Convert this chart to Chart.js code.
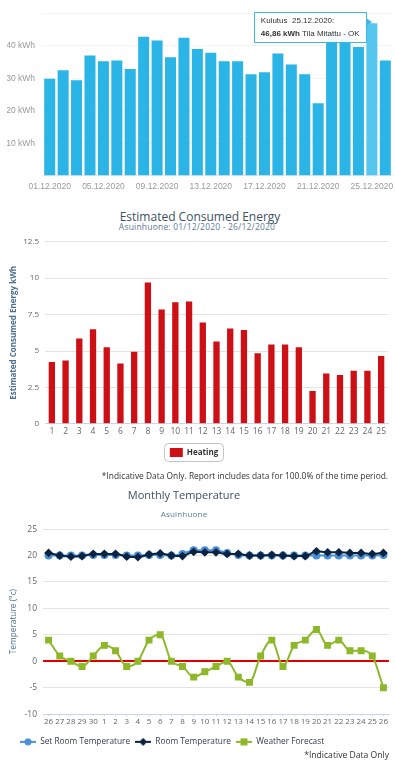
<!DOCTYPE html>
<html>
<head>
<meta charset="utf-8">
<script src="https://cdn.jsdelivr.net/npm/chart.js@4/dist/chart.umd.min.js"></script>
<style>
  body { margin: 0; background: #fff; width: 395px; height: 768px; overflow: hidden; position: relative; }
  .box { position: absolute; left: 0; width: 395px; }
  .ttl { position: absolute; font-family: "Open Sans", sans-serif; color: #3e4f61; white-space: nowrap; transform: translateX(-50%); }
  .sub { position: absolute; font-family: "Open Sans", sans-serif; color: #5d7a97; white-space: nowrap; transform: translateX(-50%); letter-spacing: 0.2px; }
  .note { position: absolute; font-family: "Open Sans", sans-serif; color: #333; white-space: nowrap; }
  #tip { position: absolute; display: none; background: rgba(255,255,255,0.95); border: 1px solid #3fb7e6;
         font-family: "Liberation Sans", Arial, sans-serif; font-size: 8px; color: #333; padding: 2px 6px 2px 6px;
         line-height: 12.5px; white-space: nowrap; }
  #tip:after { content: ""; position: absolute; right: -6px; top: 5px; border-left: 6px solid #3fb7e6;
         border-top: 4px solid transparent; border-bottom: 4px solid transparent; }
</style>
</head>
<body>

<div class="box" style="top:0;height:198px"><canvas id="c1"></canvas></div>
<div id="tip"></div>

<div class="ttl" style="left:200px;top:208px;font-size:12px">Estimated Consumed Energy</div>
<div class="sub" style="left:197px;top:221px;font-size:8.5px">Asuinhuone: 01/12/2020 - 26/12/2020</div>
<div class="box" style="top:231px;height:240px"><canvas id="c2"></canvas></div>
<div class="note" style="right:7px;top:470px;font-size:8.4px">*Indicative Data Only. Report includes data for 100.0% of the time period.</div>

<div class="ttl" style="left:184px;top:487px;font-size:11px">Monthly Temperature</div>
<div class="sub" style="left:184px;top:508px;font-size:8px">Asuinhuone</div>
<div class="box" style="top:518px;height:239px"><canvas id="c3"></canvas></div>
<div class="note" style="right:6px;top:749px;font-size:8.6px">*Indicative Data Only</div>

<script>
// --- data: daily consumption (kWh) ---
var days1 = ['01.12.2020', '02.12.2020', '03.12.2020', '04.12.2020', '05.12.2020', '06.12.2020', '07.12.2020',
             '08.12.2020', '09.12.2020', '10.12.2020', '11.12.2020', '12.12.2020', '13.12.2020', '14.12.2020',
             '15.12.2020', '16.12.2020', '17.12.2020', '18.12.2020', '19.12.2020', '20.12.2020', '21.12.2020',
             '22.12.2020', '23.12.2020', '24.12.2020', '25.12.2020', '26.12.2020'];
var kulutus = [29.8, 32.4, 29.4, 37.0, 35.2, 35.4, 32.8, 42.7, 41.6, 36.4, 42.4, 39.0, 37.8, 35.2,
               35.2, 31.2, 31.8, 37.6, 34.2, 31.2, 22.3, 44.5, 43.5, 39.6, 46.86, 35.4];
var kwhTicks = [10, 20, 30, 40];

// --- data: estimated consumed energy ---
var days2 = ['1', '2', '3', '4', '5', '6', '7', '8', '9', '10', '11', '12', '13',
             '14', '15', '16', '17', '18', '19', '20', '21', '22', '23', '24', '25'];
var heating = [4.25, 4.35, 5.85, 6.5, 5.25, 4.15, 4.95, 9.7, 7.85, 8.35, 8.4, 6.95, 5.65,
               6.55, 6.45, 4.85, 5.45, 5.45, 5.25, 2.25, 3.45, 3.35, 3.65, 3.65, 4.65];

// --- data: monthly temperature ---
var days3 = ['26', '27', '28', '29', '30', '1', '2', '3', '4', '5', '6', '7', '8', '9', '10', '11',
             '12', '13', '14', '15', '16', '17', '18', '19', '20', '21', '22', '23', '24', '25', '26'];
var setRoom = [20, 20, 20, 20, 20.1, 20.1, 20.1, 20, 20, 20.1, 20.1, 20, 20.3, 21, 21, 21,
               20.5, 20.1, 20, 20, 20, 20, 20, 20, 20, 20, 20, 20, 20, 20, 20.1];
var roomTemp = [20.5, 20, 19.8, 19.9, 20.3, 20.3, 20.3, 19.8, 19.7, 20.2, 20.4, 20, 19.9, 20.7, 20.6, 20.6,
                20.3, 20.3, 20, 20, 20.1, 20, 19.9, 19.9, 20.8, 20.6, 20.6, 20.5, 20.5, 20.3, 20.5];
var forecast = [4, 1, 0, -1, 1, 3, 2, -1, 0, 4, 5, 0, -1, -3, -2, -1,
                0, -3, -4, 1, 4, -1, 3, 4, 6, 3, 4, 2, 2, 1, -5];

var hlDay = 24; // tooltip shown on 25.12.2020

Chart.defaults.animation = false;
Chart.defaults.responsive = true;
Chart.defaults.maintainAspectRatio = false;

function fixWidth(w) {
    return function (ax) { ax.width = w; };
}

// ---------- chart 1 ----------
var tipEl = document.getElementById('tip');
function showTip(ctx) {
    var t = ctx.tooltip;
    if (t.opacity === 0 || !t.dataPoints || !t.dataPoints.length) { tipEl.style.display = 'none'; return; }
    var p = t.dataPoints[0];
    tipEl.innerHTML = 'Kulutus&nbsp; ' + p.label + ':<br><b>' + p.raw.toFixed(2).replace('.', ',') +
                      ' kWh</b> Tila Mitattu - OK';
    tipEl.style.display = 'block';
    tipEl.style.left = (t.caretX - tipEl.offsetWidth - 5) + 'px';
    tipEl.style.top = (t.caretY - 11) + 'px';
}

var chart1 = new Chart(document.getElementById('c1'), {
    type: 'bar',
    data: {
        labels: days1,
        datasets: [{
            label: 'Kulutus',
            data: kulutus,
            backgroundColor: '#2bb4e6',
            hoverBackgroundColor: '#55c6ee',
            barPercentage: 0.82,
            categoryPercentage: 1
        }]
    },
    options: {
        layout: { padding: { top: 0, right: 3, left: 7 } },
        events: [],
        plugins: {
            legend: { display: false },
            tooltip: { enabled: false, external: showTip }
        },
        scales: {
            x: {
                grid: { display: false, drawTicks: false },
                border: { color: '#e0e6ee' },
                ticks: {
                    autoSkip: false, maxRotation: 0, color: '#999', padding: 6,
                    font: { family: 'Liberation Sans', size: 8.5 },
                    callback: function (v, i) { return i % 4 === 0 ? days1[i] : ''; }
                }
            },
            y: {
                min: 0, max: 50,
                border: { display: false },
                grid: { color: '#f2f2f2', drawTicks: false },
                afterFit: fixWidth(36),
                afterBuildTicks: function (ax) {
                    ax.ticks = [0].concat(kwhTicks, [50]).map(function (v) { return { value: v }; });
                },
                ticks: {
                    color: '#999', padding: 8,
                    font: { family: 'Liberation Sans', size: 8.5 },
                    callback: function (v) { return kwhTicks.indexOf(v) >= 0 ? v + ' kWh' : ''; }
                }
            }
        }
    }
});
chart1.setActiveElements([{ datasetIndex: 0, index: hlDay }]);
chart1.tooltip.setActiveElements([{ datasetIndex: 0, index: hlDay }], { x: 0, y: 0 });
chart1.update('none');

// ---------- chart 2 ----------
var legendFrame = {
    id: 'legendFrame',
    afterDraw: function (chart) {
        var hb = chart.legend.legendHitBoxes[0];
        if (!hb) return;
        var c = chart.ctx;
        c.save();
        c.strokeStyle = '#c4c4c4';
        c.lineWidth = 1;
        c.beginPath();
        c.roundRect(Math.round(hb.left) - 5.5, Math.round(hb.top) - 4.5, Math.round(hb.width) + 11, Math.round(hb.height) + 9, 4);
        c.stroke();
        c.restore();
    }
};

new Chart(document.getElementById('c2'), {
    type: 'bar',
    data: {
        labels: days2,
        datasets: [{
            label: 'Heating',
            data: heating,
            backgroundColor: '#cc1016',
            barPercentage: 0.46,
            categoryPercentage: 1
        }]
    },
    plugins: [legendFrame],
    options: {
        layout: { padding: { top: 4, right: 7, left: 0, bottom: 4 } },
        events: [],
        plugins: {
            tooltip: { enabled: false },
            legend: {
                position: 'bottom',
                labels: {
                    boxWidth: 13, boxHeight: 9, padding: 8,
                    color: '#333', font: { family: 'Open Sans', size: 8, weight: 'bold' }
                }
            }
        },
        scales: {
            x: {
                grid: { display: false, drawTicks: false },
                border: { color: '#ccd6eb' },
                ticks: { autoSkip: false, maxRotation: 0, color: '#666', padding: 3, font: { family: 'Open Sans', size: 8.5 } }
            },
            y: {
                min: 0, max: 12.5,
                border: { display: false },
                grid: { color: '#e3e3e3', drawTicks: false },
                afterFit: fixWidth(45),
                ticks: { stepSize: 2.5, color: '#666', padding: 6, font: { family: 'Open Sans', size: 8 } },
                title: {
                    display: true, text: 'Estimated Consumed Energy kWh', color: '#4d6f8f',
                    font: { family: 'Open Sans', size: 8, weight: 'bold' }, padding: 9
                }
            }
        }
    }
});

// ---------- chart 3 ----------
function legendIcon(color, style) {
    var cv = document.createElement('canvas');
    cv.width = 16; cv.height = 8;
    var g = cv.getContext('2d');
    g.strokeStyle = color; g.fillStyle = color; g.lineWidth = 2;
    g.beginPath(); g.moveTo(0, 4); g.lineTo(16, 4); g.stroke();
    g.beginPath();
    if (style === 'circle') g.arc(8, 4, 3.5, 0, Math.PI * 2);
    else if (style === 'rect') g.rect(4.5, 0.5, 7, 7);
    else { g.moveTo(8, 0); g.lineTo(12, 4); g.lineTo(8, 8); g.lineTo(4, 4); g.closePath(); }
    g.fill();
    return cv;
}

// nudge the legend a little right and down, like the original layout
var legendNudge = {
    id: 'legendNudge',
    afterLayout: function (chart) {
        var lg = chart.legend;
        lg.left += 15; lg.right += 15;
        lg.top += 5; lg.bottom += 5;
    }
};

var series3 = [
    { label: 'Set Room Temperature', data: setRoom, color: '#4a8fd8', marker: 'circle', order: 1 },
    { label: 'Room Temperature', data: roomTemp, color: '#0c2340', marker: 'rectRot', order: 0 },
    { label: 'Weather Forecast', data: forecast, color: '#8cb82a', marker: 'rect', order: 2 }
];

new Chart(document.getElementById('c3'), {
    type: 'line',
    data: {
        labels: days3,
        datasets: series3.map(function (s) {
            return {
                label: s.label, data: s.data, order: s.order,
                borderColor: s.color, backgroundColor: s.color,
                borderWidth: 2, tension: 0.35, cubicInterpolationMode: 'monotone',
                pointStyle: s.marker, pointRadius: s.marker === 'rect' ? 3.5 : 3
            };
        })
    },
    plugins: [legendNudge],
    options: {
        layout: { padding: { top: 2, right: 6, left: 0, bottom: 6 } },
        events: [],
        plugins: {
            tooltip: { enabled: false },
            legend: {
                position: 'bottom', align: 'start',
                labels: {
                    usePointStyle: true, pointStyleWidth: 16, boxHeight: 8, padding: 5, color: '#333a4a',
                    font: { family: 'Open Sans', size: 8.3 },
                    generateLabels: function (chart) {
                        return series3.map(function (s, i) {
                            return { text: s.label, datasetIndex: i, fontColor: '#333a4a',
                                     pointStyle: legendIcon(s.color, s.marker), lineWidth: 0 };
                        });
                    }
                }
            }
        },
        scales: {
            x: {
                offset: true,
                grid: { display: true, drawOnChartArea: false, tickLength: 2, color: '#ccd6eb' },
                border: { color: '#ccd6eb' },
                ticks: { autoSkip: false, maxRotation: 0, color: '#666', padding: 1,
                         font: { family: 'Open Sans', size: 8 } }
            },
            y: {
                min: -10, max: 25,
                border: { display: false },
                grid: {
                    drawTicks: false,
                    color: function (c) { return c.tick && c.tick.value === 0 ? '#e00000' : '#e3e3e3'; },
                    lineWidth: function (c) { return c.tick && c.tick.value === 0 ? 2 : 1; }
                },
                afterFit: fixWidth(43),
                ticks: { stepSize: 5, color: '#666', padding: 6, font: { family: 'Open Sans', size: 8.5 } },
                title: {
                    display: true, text: 'Temperature (°c)', color: '#4d6f8f',
                    font: { family: 'Open Sans', size: 8.3 }, padding: 9
                }
            }
        }
    }
});
</script>
</body>
</html>
